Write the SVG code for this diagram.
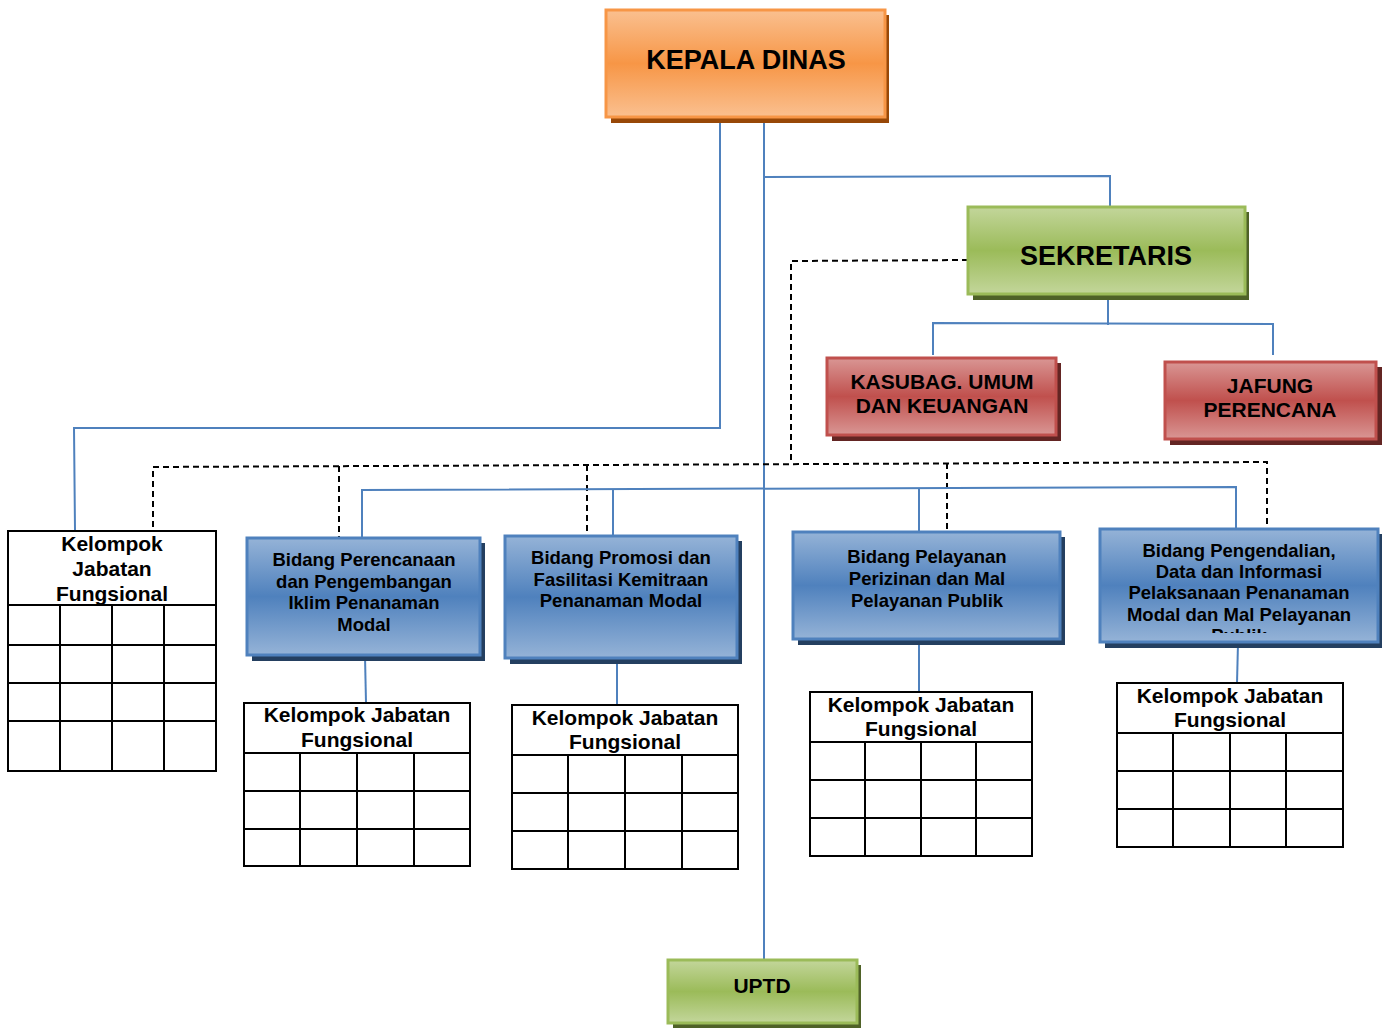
<svg xmlns="http://www.w3.org/2000/svg" width="1382" height="1028" viewBox="0 0 1382 1028">
<defs>
<linearGradient id="gO" x1="0" y1="0" x2="0" y2="1"><stop offset="0" stop-color="#FAC090"/><stop offset="0.5" stop-color="#F79646"/><stop offset="1" stop-color="#FAC090"/></linearGradient>
<linearGradient id="gG" x1="0" y1="0" x2="0" y2="1"><stop offset="0" stop-color="#C3D69B"/><stop offset="0.5" stop-color="#9BBB59"/><stop offset="1" stop-color="#C3D69B"/></linearGradient>
<linearGradient id="gR" x1="0" y1="0" x2="0" y2="1"><stop offset="0" stop-color="#D99694"/><stop offset="0.5" stop-color="#C0504D"/><stop offset="1" stop-color="#D99694"/></linearGradient>
<linearGradient id="gB" x1="0" y1="0" x2="0" y2="1"><stop offset="0" stop-color="#95B3D7"/><stop offset="0.5" stop-color="#4F81BD"/><stop offset="1" stop-color="#95B3D7"/></linearGradient>
<clipPath id="clip4"><rect x="1100" y="529" width="278" height="104"/></clipPath>
<style>
text{font-family:"Liberation Sans",Arial,sans-serif;font-weight:bold;fill:#000;text-anchor:middle}
.o{fill:url(#gO);stroke:#F79646;stroke-width:3}
.g{fill:url(#gG);stroke:#9BBB59;stroke-width:3}
.r{fill:url(#gR);stroke:#C0504D;stroke-width:3}
.b{fill:url(#gB);stroke:#4F81BD;stroke-width:3}
.so{fill:#984807}.sg{fill:#4F6228}.sr{fill:#632523}.sb{fill:#243F60}
.bl{fill:none;stroke:#4F81BD;stroke-width:2}
.ds{fill:none;stroke:#000;stroke-width:2;stroke-dasharray:6,4}
.t{fill:#fff;stroke:#000;stroke-width:2}
.gl{stroke:#000;stroke-width:2;fill:none}
.f27{font-size:27px}.f21{font-size:21px}.f18{font-size:18.5px}
</style>
</defs>
<g id="connectors">
<polyline class="bl" points="726,121 720,121 720,428 74,428 75,530"/>
<line class="bl" x1="764" y1="121" x2="764" y2="960"/>
<polyline class="bl" points="764,177 1110,176 1110,207"/>
<line class="bl" x1="1108" y1="295" x2="1108" y2="325"/>
<polyline class="bl" points="933,355 933,323 1273,324 1273,355"/>
<polyline class="ds" points="968,260 791,261 791,463"/>
<polyline class="ds" points="153,527 153,467 1267,462 1267,530"/>
<line class="ds" x1="339" y1="466" x2="339" y2="538"/>
<line class="ds" x1="587" y1="465" x2="587" y2="538"/>
<line class="ds" x1="947" y1="463" x2="947" y2="531"/>
<polyline class="bl" points="362,538 362,490 1236,487 1236,529"/>
<line class="bl" x1="613" y1="489" x2="613" y2="536"/>
<line class="bl" x1="919" y1="488" x2="919" y2="532"/>
<line class="bl" x1="365" y1="656" x2="366" y2="703"/>
<line class="bl" x1="617" y1="659" x2="617" y2="705"/>
<line class="bl" x1="919" y1="640" x2="919" y2="692"/>
<line class="bl" x1="1238" y1="643" x2="1237" y2="683"/>
</g>
<g id="kepala">
<rect class="so" x="611" y="15" width="278" height="108"/>
<rect class="o" x="606" y="10" width="279" height="107"/>
<text class="f27" x="746" y="69">KEPALA DINAS</text>
</g>
<g id="sekretaris">
<rect class="sg" x="973" y="212" width="276" height="88"/>
<rect class="g" x="968" y="207" width="277" height="87"/>
<text class="f27" x="1106" y="265">SEKRETARIS</text>
</g>
<g id="kasubag">
<rect class="sr" x="832" y="363" width="229" height="78"/>
<rect class="r" x="827" y="358" width="229" height="77"/>
<text class="f21" x="942" y="389">KASUBAG. UMUM</text>
<text class="f21" x="942" y="413">DAN KEUANGAN</text>
</g>
<g id="jafung">
<rect class="sr" x="1170" y="367" width="212" height="78"/>
<rect class="r" x="1165" y="362" width="211" height="77"/>
<text class="f21" x="1270" y="393">JAFUNG</text>
<text class="f21" x="1270" y="417">PERENCANA</text>
</g>
<g id="bidang1">
<rect class="sb" x="252" y="543" width="233" height="118"/>
<rect class="b" x="247" y="538" width="233" height="117"/>
<text class="f18" x="364" y="566">Bidang Perencanaan</text>
<text class="f18" x="364" y="588">dan Pengembangan</text>
<text class="f18" x="364" y="609">Iklim Penanaman</text>
<text class="f18" x="364" y="631">Modal</text>
</g>
<g id="bidang2">
<rect class="sb" x="510" y="541" width="232" height="123"/>
<rect class="b" x="505" y="536" width="232" height="122"/>
<text class="f18" x="621" y="564">Bidang Promosi dan</text>
<text class="f18" x="621" y="586">Fasilitasi Kemitraan</text>
<text class="f18" x="621" y="607">Penanaman Modal</text>
</g>
<g id="bidang3">
<rect class="sb" x="798" y="537" width="267" height="108"/>
<rect class="b" x="793" y="532" width="267" height="107"/>
<text class="f18" x="927" y="563">Bidang Pelayanan</text>
<text class="f18" x="927" y="585">Perizinan dan Mal</text>
<text class="f18" x="927" y="607">Pelayanan Publik</text>
</g>
<g id="bidang4">
<rect class="sb" x="1105" y="534" width="277" height="114"/>
<rect class="b" x="1100" y="529" width="278" height="113"/>
<g clip-path="url(#clip4)">
<text class="f18" x="1239" y="557">Bidang Pengendalian,</text>
<text class="f18" x="1239" y="578">Data dan Informasi</text>
<text class="f18" x="1239" y="599">Pelaksanaan Penanaman</text>
<text class="f18" x="1239" y="621">Modal dan Mal Pelayanan</text>
<text class="f18" x="1239" y="642">Publik</text>
</g>
</g>
<g id="uptd">
<rect class="sg" x="673" y="965" width="188" height="63"/>
<rect class="g" x="668" y="960" width="189" height="63"/>
<text class="f21" x="762" y="993">UPTD</text>
</g>
<g id="kjf0">
<rect class="t" x="8" y="531" width="208" height="240"/>
<path class="gl" d="M8 605H216M8 645H216M8 683H216M8 721H216M60 605V771M112 605V771M164 605V771"/>
<text class="f21" x="112" y="551">Kelompok</text>
<text class="f21" x="112" y="576">Jabatan</text>
<text class="f21" x="112" y="601">Fungsional</text>
</g>
<g id="kjf1">
<rect class="t" x="244" y="703" width="226" height="163"/>
<path class="gl" d="M244 753H470M244 791H470M244 829H470M300 753V866M357 753V866M414 753V866"/>
<text class="f21" x="357" y="722">Kelompok Jabatan</text>
<text class="f21" x="357" y="747">Fungsional</text>
</g>
<g id="kjf2">
<rect class="t" x="512" y="705" width="226" height="164"/>
<path class="gl" d="M512 755H738M512 793H738M512 831H738M568 755V869M625 755V869M682 755V869"/>
<text class="f21" x="625" y="725">Kelompok Jabatan</text>
<text class="f21" x="625" y="749">Fungsional</text>
</g>
<g id="kjf3">
<rect class="t" x="810" y="692" width="222" height="164"/>
<path class="gl" d="M810 742H1032M810 780H1032M810 818H1032M865 742V856M921 742V856M976 742V856"/>
<text class="f21" x="921" y="712">Kelompok Jabatan</text>
<text class="f21" x="921" y="736">Fungsional</text>
</g>
<g id="kjf4">
<rect class="t" x="1117" y="683" width="226" height="164"/>
<path class="gl" d="M1117 733H1343M1117 771H1343M1117 809H1343M1173 733V847M1230 733V847M1286 733V847"/>
<text class="f21" x="1230" y="703">Kelompok Jabatan</text>
<text class="f21" x="1230" y="727">Fungsional</text>
</g>
</svg>
